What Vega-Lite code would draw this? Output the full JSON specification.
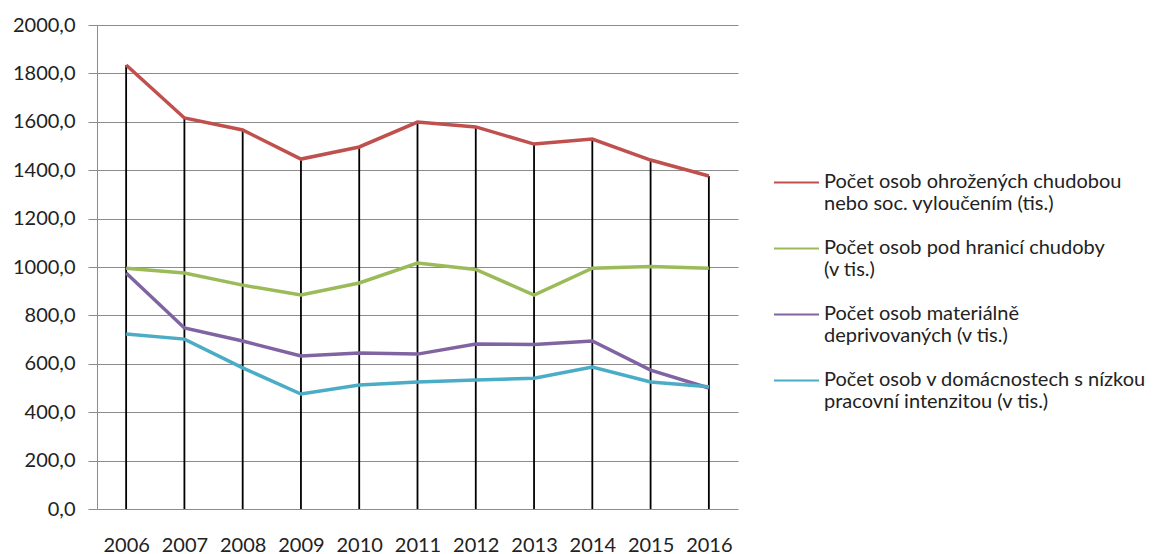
{
  "$schema": "https://vega.github.io/schema/vega-lite/v6.json",
  "width": 641,
  "height": 484,
  "autosize": {"type": "none"},
  "padding": {"left": 97, "top": 25, "right": 422, "bottom": 45},
  "background": "white",
  "config": {
    "view": {"stroke": null},
    "font": "Lato",
    "axis": {"labelFont": "Lato", "labelColor": "#222222"},
    "legend": {"labelFont": "Lato"}
  },
  "data": {
    "values": [
      {"year": "2006", "series": "A", "value": 1835},
      {"year": "2007", "series": "A", "value": 1616},
      {"year": "2008", "series": "A", "value": 1566},
      {"year": "2009", "series": "A", "value": 1446},
      {"year": "2010", "series": "A", "value": 1496},
      {"year": "2011", "series": "A", "value": 1599},
      {"year": "2012", "series": "A", "value": 1579},
      {"year": "2013", "series": "A", "value": 1508},
      {"year": "2014", "series": "A", "value": 1529},
      {"year": "2015", "series": "A", "value": 1442},
      {"year": "2016", "series": "A", "value": 1376},
      {"year": "2006", "series": "B", "value": 995},
      {"year": "2007", "series": "B", "value": 975},
      {"year": "2008", "series": "B", "value": 925},
      {"year": "2009", "series": "B", "value": 884},
      {"year": "2010", "series": "B", "value": 934},
      {"year": "2011", "series": "B", "value": 1016},
      {"year": "2012", "series": "B", "value": 990},
      {"year": "2013", "series": "B", "value": 884},
      {"year": "2014", "series": "B", "value": 995},
      {"year": "2015", "series": "B", "value": 1002},
      {"year": "2016", "series": "B", "value": 995},
      {"year": "2006", "series": "C", "value": 975},
      {"year": "2007", "series": "C", "value": 748},
      {"year": "2008", "series": "C", "value": 694},
      {"year": "2009", "series": "C", "value": 632},
      {"year": "2010", "series": "C", "value": 645},
      {"year": "2011", "series": "C", "value": 640},
      {"year": "2012", "series": "C", "value": 682},
      {"year": "2013", "series": "C", "value": 680},
      {"year": "2014", "series": "C", "value": 694},
      {"year": "2015", "series": "C", "value": 574},
      {"year": "2016", "series": "C", "value": 500},
      {"year": "2006", "series": "D", "value": 723},
      {"year": "2007", "series": "D", "value": 702},
      {"year": "2008", "series": "D", "value": 583},
      {"year": "2009", "series": "D", "value": 475},
      {"year": "2010", "series": "D", "value": 512},
      {"year": "2011", "series": "D", "value": 525},
      {"year": "2012", "series": "D", "value": 533},
      {"year": "2013", "series": "D", "value": 540},
      {"year": "2014", "series": "D", "value": 587},
      {"year": "2015", "series": "D", "value": 525},
      {"year": "2016", "series": "D", "value": 505}
    ]
  },
  "encoding": {
    "x": {
      "field": "year",
      "type": "ordinal",
      "scale": {"type": "point", "padding": 0.5},
      "axis": {
        "title": null,
        "labelAngle": 0,
        "labelFontSize": 20,
        "labelPadding": 26,
        "ticks": false,
        "domain": false,
        "grid": false
      }
    },
    "y": {
      "field": "value",
      "type": "quantitative",
      "scale": {"domain": [0, 2000], "nice": false},
      "axis": {
        "title": null,
        "values": [0, 200, 400, 600, 800, 1000, 1200, 1400, 1600, 1800, 2000],
        "labelExpr": "replace(format(datum.value, '.1f'), '.', ',')",
        "labelFontSize": 20,
        "labelPadding": 13,
        "tickSize": 9,
        "tickColor": "#8c8c8c",
        "domainColor": "#8c8c8c",
        "gridColor": "#8c8c8c",
        "gridOpacity": 1,
        "grid": true
      }
    }
  },
  "layer": [
    {
      "transform": [{"filter": "datum.series == 'A'"}],
      "mark": {"type": "rule", "color": "black", "strokeWidth": 1.8},
      "encoding": {
        "y": {"datum": 0},
        "y2": {"field": "value"}
      }
    },
    {
      "mark": {"type": "line", "strokeWidth": 3.5},
      "encoding": {
        "color": {
          "field": "series",
          "type": "nominal",
          "scale": {
            "domain": ["A", "B", "C", "D"],
            "range": ["#C0504D", "#9BBB59", "#8064A2", "#4BACC6"]
          },
          "legend": {
            "title": null,
            "orient": "none",
            "legendX": 676,
            "legendY": 123,
            "padding": 0,
            "symbolType": "M-1,0.49H1",
            "symbolSize": 2025,
            "symbolStrokeWidth": 2,
            "symbolFillColor": "transparent",
            "labelFontSize": 20,
            "labelColor": "#222222",
            "labelOffset": 4,
            "labelLimit": 500,
            "rowPadding": 0,
            "labelBaseline": "top",
            "labelExpr": "datum.label == 'A' ? ['Počet osob ohrožených chudobou', 'nebo soc. vyloučením (tis.)'] : datum.label == 'B' ? ['Počet osob pod hranicí chudoby', '(v tis.)'] : datum.label == 'C' ? ['Počet osob materiálně', 'deprivovaných (v tis.)'] : ['Počet osob v domácnostech  s nízkou', 'pracovní intenzitou  (v tis.)']"
          }
        }
      }
    }
  ]
}
